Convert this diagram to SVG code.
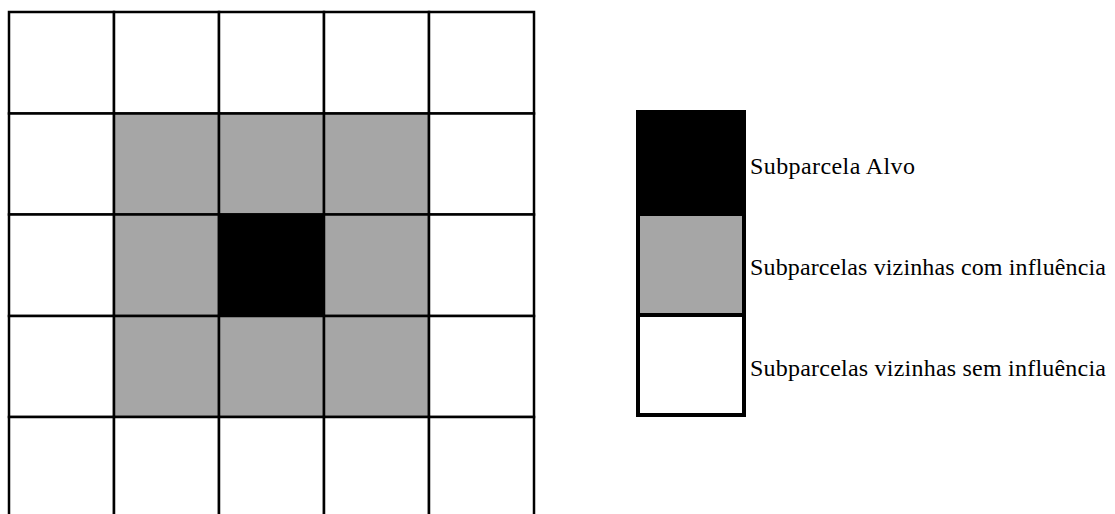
<svg xmlns="http://www.w3.org/2000/svg" width="1115" height="514" viewBox="0 0 1115 514">
  <style>
    .cell { stroke: #000; stroke-width: 2.5; }
    .w { fill: #fff; }
    .g { fill: #a6a6a6; }
    .k { fill: #000; }
    .lbl { font-family: "Liberation Serif", serif; font-size: 24px; fill: #000; }
  </style>
  <rect x="0" y="0" width="1115" height="514" fill="#fff"/>
  <g id="grid">
    <g id="row1">
      <rect class="cell w" x="9" y="12" width="105" height="101.5"/>
      <rect class="cell w" x="114" y="12" width="105" height="101.5"/>
      <rect class="cell w" x="219" y="12" width="105" height="101.5"/>
      <rect class="cell w" x="324" y="12" width="105" height="101.5"/>
      <rect class="cell w" x="429" y="12" width="105" height="101.5"/>
    </g>
    <g id="row2">
      <rect class="cell w" x="9" y="113.5" width="105" height="101"/>
      <rect class="cell g" x="114" y="113.5" width="105" height="101"/>
      <rect class="cell g" x="219" y="113.5" width="105" height="101"/>
      <rect class="cell g" x="324" y="113.5" width="105" height="101"/>
      <rect class="cell w" x="429" y="113.5" width="105" height="101"/>
    </g>
    <g id="row3">
      <rect class="cell w" x="9" y="214.5" width="105" height="101.5"/>
      <rect class="cell g" x="114" y="214.5" width="105" height="101.5"/>
      <rect class="cell k" x="219" y="214.5" width="105" height="101.5"/>
      <rect class="cell g" x="324" y="214.5" width="105" height="101.5"/>
      <rect class="cell w" x="429" y="214.5" width="105" height="101.5"/>
    </g>
    <g id="row4">
      <rect class="cell w" x="9" y="316" width="105" height="101"/>
      <rect class="cell g" x="114" y="316" width="105" height="101"/>
      <rect class="cell g" x="219" y="316" width="105" height="101"/>
      <rect class="cell g" x="324" y="316" width="105" height="101"/>
      <rect class="cell w" x="429" y="316" width="105" height="101"/>
    </g>
    <g id="row5">
      <rect class="cell w" x="9" y="417" width="105" height="102"/>
      <rect class="cell w" x="114" y="417" width="105" height="102"/>
      <rect class="cell w" x="219" y="417" width="105" height="102"/>
      <rect class="cell w" x="324" y="417" width="105" height="102"/>
      <rect class="cell w" x="429" y="417" width="105" height="102"/>
    </g>
  </g>
  <g id="legend">
    <g id="legend-alvo">
      <rect x="636" y="110" width="110" height="105" fill="#000"/>
      <text class="lbl" x="750" y="174" textLength="165" lengthAdjust="spacing">Subparcela Alvo</text>
    </g>
    <g id="legend-com">
      <rect x="640" y="216" width="102" height="97" fill="#a6a6a6"/>
      <text class="lbl" x="750" y="275" textLength="356" lengthAdjust="spacing">Subparcelas vizinhas com influência</text>
    </g>
    <g id="legend-sem">
      <rect x="640" y="317" width="102" height="96" fill="#fff"/>
      <text class="lbl" x="750" y="376" textLength="356" lengthAdjust="spacing">Subparcelas vizinhas sem influência</text>
    </g>
    <g id="legend-frame" fill="none" stroke="#000" stroke-width="4">
      <rect x="638" y="112" width="106" height="303"/>
      <line x1="638" y1="315" x2="744" y2="315"/>
      <line x1="638" y1="215" x2="744" y2="215" stroke-width="2"/>
    </g>
  </g>
</svg>
